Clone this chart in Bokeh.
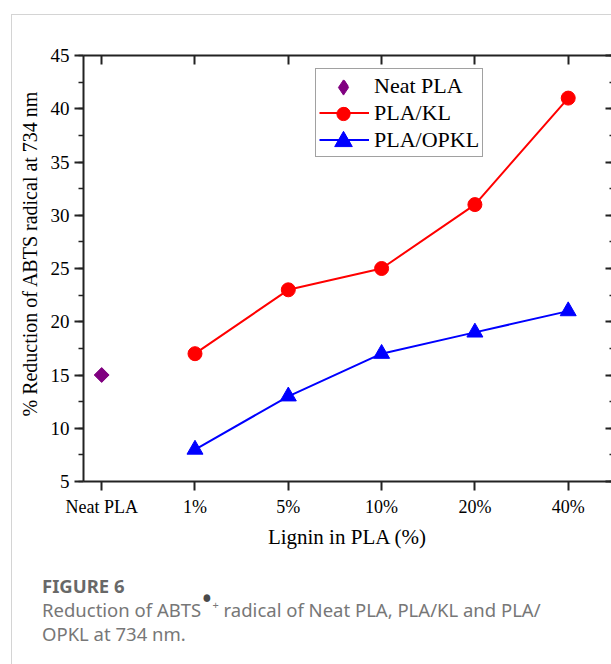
from bokeh.plotting import figure
from bokeh.layouts import column
from bokeh.models import (Range1d, LinearAxis, FixedTicker, SingleIntervalTicker,
                          Legend, LegendItem, Div)
from bokeh.embed import file_html
from bokeh.resources import INLINE

# ---- data ----
categories = ["Neat PLA", "1%", "5%", "10%", "20%", "40%"]
neat_x = [0]
neat_value = [15]
lignin_x = [1, 2, 3, 4, 5]
kl_values = [17, 23, 25, 31, 41]
opkl_values = [8, 13, 17, 19, 21]
series_labels = ["Neat PLA", "PLA/KL", "PLA/OPKL"]

SERIF = "Liberation Serif"

FRAME_BOTTOM = 481 - 15  # frame bottom inside the figure canvas

p = figure(width=599, height=550,
           x_range=Range1d(-0.195, 5.464), y_range=Range1d(5, 45),
           x_axis_type=None, y_axis_type=None,
           output_backend="svg", toolbar_location=None,
           min_border_left=71, min_border_top=40, min_border_right=0,
           min_border_bottom=84)
p.outline_line_color = None
p.background_fill_color = "white"
p.border_fill_color = "white"

overrides = {i: c for i, c in enumerate(categories)}

def style_axis(ax):
    ax.axis_line_width = 2
    ax.axis_line_color = "#222222"
    ax.major_tick_line_width = 2
    ax.major_tick_line_color = "#222222"
    ax.minor_tick_line_width = 1.5
    ax.minor_tick_line_color = "#222222"
    ax.major_label_text_font = SERIF
    ax.major_label_text_color = "black"
    ax.axis_label_text_font = SERIF
    ax.axis_label_text_font_style = "normal"
    ax.axis_label_text_color = "black"

def hide_labels(ax):
    ax.major_label_text_color = None
    ax.major_label_text_font_size = "1px"
    ax.major_label_standoff = 0

# bottom axis
xb = LinearAxis(ticker=FixedTicker(ticks=list(range(len(categories)))),
                major_label_overrides=overrides, axis_label="Lignin in PLA (%)")
style_axis(xb)
xb.major_tick_in = 0
xb.major_tick_out = 9
xb.major_label_standoff = 6
xb.major_label_text_font_size = "18px"
xb.axis_label_text_font_size = "21px"
xb.axis_label_standoff = 5
p.add_layout(xb, "below")

# top axis
xt = LinearAxis(ticker=FixedTicker(ticks=list(range(len(categories)))))
style_axis(xt)
xt.major_tick_in = 9
xt.major_tick_out = 0
hide_labels(xt)
p.add_layout(xt, "above")

# left axis
NB = "\u00a0"
yl = LinearAxis(ticker=SingleIntervalTicker(interval=5, num_minor_ticks=2),
                axis_label=NB * 6 + "% Reduction of ABTS radical at 734 nm")
style_axis(yl)
yl.major_tick_in = 0
yl.major_tick_out = 9
yl.minor_tick_in = 0
yl.minor_tick_out = 5
yl.major_label_standoff = 5
yl.major_label_text_font_size = "19px"
yl.axis_label_text_font_size = "20px"
yl.axis_label_standoff = 7
p.add_layout(yl, "left")

# right axis (its line lies just outside the window)
yr = LinearAxis(ticker=SingleIntervalTicker(interval=5, num_minor_ticks=2))
style_axis(yr)
yr.axis_line_color = None
yr.major_tick_in = 6
yr.major_tick_out = 0
yr.minor_tick_in = 2
yr.minor_tick_out = 0
hide_labels(yr)
p.add_layout(yr, "right")

# ---- series ----
# diamond used only for the legend; hidden below the rotated square of the plot
r_neat_leg = p.scatter(neat_x, neat_value, marker="diamond", size=13,
                       fill_color="#800080", line_color="#800080")
r_neat = p.scatter(neat_x, neat_value, marker="square", size=10.5, angle=0.785398,
                   fill_color="#800080", line_color="#800080")
l_kl = p.line(lignin_x, kl_values, line_color="#ff0000", line_width=2)
s_kl = p.scatter(lignin_x, kl_values, marker="circle", size=14,
                 fill_color="#ff0000", line_color="#ff0000")
l_op = p.line(lignin_x, opkl_values, line_color="#0000ff", line_width=2)
s_op = p.scatter(lignin_x, opkl_values, marker="triangle", size=16,
                 fill_color="#0000ff", line_color="#0000ff")

# main legend: box, labels, lines
LEG_LEFT, LEG_TOP, ROW, PAD = 232, 70, 27, 3
legend = Legend(items=[
    LegendItem(label=series_labels[0], renderers=[r_neat_leg]),
    LegendItem(label=series_labels[1], renderers=[l_kl, s_kl]),
    LegendItem(label=series_labels[2], renderers=[l_op, s_op]),
], location=(LEG_LEFT, FRAME_BOTTOM + 15 - (LEG_TOP + 2 * PAD + 3 * ROW)))
legend.label_text_font = SERIF
legend.label_text_font_size = "22px"
legend.label_text_color = "black"
legend.glyph_width = 50
legend.glyph_height = ROW
legend.label_height = ROW
legend.label_standoff = 5
legend.spacing = 0
legend.padding = PAD
legend.margin = 0
legend.border_line_color = "#444444"
legend.border_line_width = 1
legend.background_fill_color = "white"
legend.background_fill_alpha = 1
p.add_layout(legend)

# larger legend markers, drawn over the small ones of the main legend
big = [(r_neat_leg, 38), (s_kl, 33), (s_op, 44)]
for i, (rend, gh) in enumerate(big):
    centre = LEG_TOP + PAD + ROW * i + ROW / 2
    lg = Legend(items=[LegendItem(label=series_labels[i], renderers=[rend])],
                location=(LEG_LEFT + PAD, FRAME_BOTTOM + 15 - centre - gh / 2))
    lg.glyph_width = 50
    lg.glyph_height = gh
    lg.label_height = 0
    lg.label_width = 0
    lg.label_standoff = 0
    lg.label_text_font_size = "1px"
    lg.label_text_color = None
    lg.padding = 0
    lg.margin = 0
    lg.spacing = 0
    lg.border_line_color = None
    lg.background_fill_alpha = 0
    p.add_layout(lg)

# ---- caption ----
caption_html = (
    '<div style="font-family:\'Noto Sans\'; padding:9px 0 0 30px; white-space:nowrap;">'
    '<div style="font-size:18.5px; line-height:24px; font-weight:bold; color:#686868;">FIGURE 6</div>'
    '<div style="font-size:18.5px; line-height:24px; color:#777777;">'
    'Reduction of ABTS'
    '<span style="position:relative; top:-7px; font-size:30px; line-height:10px; color:#4a4a4a;">&#8226;</span>'
    '<span style="position:relative; top:-8px; font-size:11px; line-height:10px;">+</span>'
    ' radical of Neat PLA, PLA/KL and PLA/<br>OPKL at 734 nm.</div>'
    '</div>'
)
cap = Div(text=caption_html, width=599, height=99, margin=0)

root = column(p, cap, spacing=0)
root.margin = (14, 0, 0, 11)
root.styles = {"border-top": "1px solid #d4d4d4", "border-left": "1px solid #d4d4d4",
               "background": "white"}

open("out.html", "w").write(file_html(root, INLINE))
